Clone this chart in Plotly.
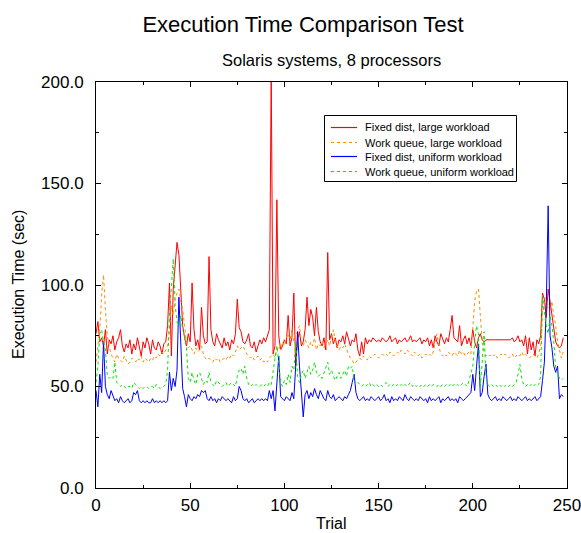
import plotly.graph_objects as go

trials = list(range(0, 249))

fixed_large = [
    76, 82, 72, 74, 70, 78, 66, 73, 71, 75,
    68, 72, 74, 78, 70, 67, 71, 69, 73, 66,
    71, 68, 74, 70, 65, 72, 69, 74, 71, 66,
    73, 69, 68, 72, 70, 66, 71, 72, 80, 101,
    65, 98, 110, 121, 115, 95, 80, 74, 70, 76,
    72, 101, 78, 70, 73, 68, 89, 75, 71, 72,
    114, 78, 72, 70, 76, 73, 71, 69, 74, 70,
    72, 68, 73, 71, 76, 93, 79, 77, 72, 71,
    73, 76, 70, 69, 72, 67, 70, 73, 71, 74,
    72, 75, 78, 205, 66, 70, 142, 75, 68, 70,
    73, 71, 85, 70, 74, 96, 60, 73, 77, 70,
    72, 78, 94, 80, 88, 84, 75, 89, 77, 72,
    70, 74, 68, 116, 73, 76, 71, 74, 69, 73,
    72, 75, 71, 77, 74, 70, 73, 72, 76, 68,
    65, 72, 66, 74, 71, 73, 72, 74, 73, 72,
    73, 72, 74, 73, 72, 73, 75, 72, 73, 74,
    71, 73, 72, 73, 74, 72, 73, 75, 72, 73,
    72, 73, 74, 71, 73, 72, 74, 70, 73, 69,
    75, 72, 70, 76, 73, 71, 74, 72, 78, 85,
    74, 73, 72, 80, 70, 73, 75, 71, 74, 70,
    78, 72, 69, 74, 76, 73, 72, 73, 73, 73,
    73, 73, 73, 73, 73, 73, 73, 73, 73, 73,
    73, 74, 72, 73, 75, 72, 73, 70, 75, 66,
    74, 68, 72, 65, 73, 71, 75, 96, 93, 84,
    98, 92, 85, 78, 72, 70, 69, 70, 74,
]

queue_large = [
    62, 70, 78, 95, 105, 88, 75, 70, 66, 64,
    62, 66, 64, 63, 62, 65, 63, 61, 62, 64,
    63, 62, 64, 63, 65, 62, 64, 63, 62, 64,
    63, 65, 64, 66, 65, 67, 66, 68, 70, 78,
    90, 85, 93, 96, 98, 92, 88, 80, 72, 69,
    70, 68, 66, 69, 67, 68, 70, 66, 64, 63,
    64, 63, 62, 64, 63, 64, 62, 63, 64, 63,
    65, 64, 66, 65, 67, 70, 68, 69, 70, 68,
    66, 65, 64, 65, 63, 64, 65, 63, 64, 62,
    63, 62, 64, 65, 66, 64, 68, 70, 68, 72,
    70, 74, 76, 73, 78, 72, 75, 77, 80, 72,
    70, 73, 71, 69, 72, 70, 74, 68, 71, 70,
    72, 69, 71, 73, 70, 75, 78, 72, 70, 68,
    70, 69, 71, 68, 66, 64, 63, 61, 62, 63,
    64, 63, 65, 64, 63, 65, 64, 65, 66, 65,
    64, 65, 66, 65, 66, 65, 67, 66, 65, 66,
    67, 66, 68, 67, 66, 68, 67, 66, 65, 67,
    66, 65, 66, 64, 65, 66, 65, 66, 65, 67,
    72, 76, 70, 66, 65, 66, 65, 67, 66, 65,
    67, 66, 65, 68, 66, 67, 65, 66, 67, 66,
    80, 92, 97, 98, 85, 72, 67, 65, 66, 65,
    66, 65, 66, 64, 65, 66, 65, 66, 65, 64,
    65, 66, 64, 65, 66, 65, 67, 65, 66, 65,
    64, 65, 66, 65, 64, 66, 70, 85, 92, 94,
    90, 88, 92, 85, 80, 72, 68, 64, 67,
]

fixed_uniform = [
    48, 40, 56, 47, 72, 50, 46, 44, 48, 45,
    43, 44, 42, 45, 43, 42, 43, 44, 42, 43,
    47, 46, 48, 43, 42, 43, 42, 43, 42, 42,
    44, 42, 43, 42, 43, 42, 43, 42, 43, 57,
    48, 54, 50, 58, 94, 70, 49, 45, 40, 46,
    44, 43, 45, 44, 46, 45, 48, 47, 48, 44,
    43, 45, 43, 44, 42, 44, 43, 45, 44, 43,
    44, 43, 42, 45, 43, 44, 50, 48, 44, 43,
    44, 42, 43, 44, 42, 43, 44, 43, 44, 43,
    44, 43, 48, 44, 48, 38, 50, 65, 45, 44,
    43, 45, 44, 43, 47, 44, 60, 77, 60, 45,
    35, 46, 48, 44, 47, 45, 49, 46, 44, 48,
    46, 44, 43, 48, 45, 44, 46, 43, 44, 45,
    44, 43, 45, 44, 46, 48, 52, 56, 47, 44,
    43, 44, 45, 43, 44, 43, 45, 44, 43, 44,
    45, 43, 44, 46, 43, 44, 42, 45, 43, 44,
    43, 45, 44, 43, 46, 44, 43, 45, 44, 43,
    44, 43, 45, 44, 43, 44, 42, 45, 43, 44,
    43, 44, 45, 42, 44, 43, 44, 45, 43, 44,
    43, 44, 42, 45, 44, 43, 44, 45, 46, 47,
    56, 48, 60, 71, 45, 47, 55, 61, 46, 44,
    43, 44, 45, 43, 44, 43, 45, 44, 43, 44,
    45, 43, 44, 43, 45, 44, 43, 44, 45, 43,
    44, 43, 44, 45, 43, 44, 45, 53, 62, 90,
    139, 75, 69, 60, 57, 60, 44, 46, 45,
]

queue_uniform = [
    52, 60, 76, 78, 72, 68, 55, 54, 55, 54,
    62, 52, 51, 50, 51, 50, 49, 50, 50, 49,
    52, 51, 50, 49, 50, 49, 50, 50, 49, 50,
    50, 49, 51, 50, 49, 50, 50, 51, 58, 85,
    100, 113, 90, 82, 80, 85, 78, 75, 69, 54,
    52, 57, 53, 51, 56, 57, 54, 51, 53, 52,
    57, 52, 51, 50, 53, 52, 51, 50, 51, 52,
    50, 51, 52, 51, 50, 55, 58, 59, 56, 60,
    54, 51, 50, 51, 50, 51, 50, 50, 51, 50,
    51, 50, 52, 51, 58, 65, 70, 62, 52, 50,
    53, 51, 56, 52, 60, 58, 72, 55, 52, 56,
    58, 54, 57, 60, 56, 58, 62, 57, 55, 56,
    54, 57, 59, 62, 56, 58, 55, 53, 55, 57,
    54, 56, 58, 55, 60, 59, 60, 53, 51, 52,
    51, 50, 51, 50, 51, 52, 50, 51, 50, 51,
    50, 51, 50, 51, 52, 50, 51, 50, 51, 50,
    51, 50, 51, 50, 51, 50, 51, 52, 50, 51,
    50, 51, 50, 51, 50, 51, 50, 51, 50, 51,
    51, 50, 51, 50, 51, 50, 51, 50, 51, 50,
    51, 50, 51, 50, 51, 52, 51, 50, 53, 56,
    60, 72, 80, 76, 50, 62, 77, 55, 51, 50,
    51, 50, 51, 50, 51, 50, 51, 50, 51, 50,
    51, 50, 51, 52, 56, 61, 54, 51, 50, 51,
    50, 51, 50, 51, 50, 51, 55, 95, 87, 80,
    76, 85, 80, 72, 59, 56, 54, 53, 54,
]

names = [
    "Fixed dist, large workload",
    "Work queue, large workload",
    "Fixed dist, uniform workload",
    "Work queue, uniform workload",
]
colors = ["#ff0000", "#ff8c00", "#0000ff", "#00e600"]
dashes = ["solid", "dot", "solid", "dot"]
x_ticks = [0, 50, 100, 150, 200, 250]
y_ticks = [0, 50, 100, 150, 200]

FONT = "Liberation Sans, Arial, Helvetica, sans-serif"

# figure geometry (pixels)
W, H = 581, 533
ML, MR, MT, MB = 96, 14, 82, 45
PW, PH = W - ML - MR, H - MT - MB


def px(xp):
    return (xp - ML) / PW


def py(yp):
    return (H - MB - yp) / PH


fig = go.Figure()
for vals, color, dash, name in zip(
        [fixed_large, queue_large, fixed_uniform, queue_uniform], colors, dashes, names):
    fig.add_trace(go.Scatter(
        x=trials, y=vals, mode="lines", name=name,
        line=dict(color=color, width=1, dash=dash),
    ))

axis_common = dict(
    showgrid=False, zeroline=False, showline=True, linecolor="black",
    linewidth=1, mirror="ticks", ticks="inside", ticklen=5, automargin=False,
    tickcolor="black", tickfont=dict(family=FONT, size=17, color="black"),
    ticklabeloverflow="allow",
)

# compact legend box like the original
shapes = [dict(type="rect", xref="paper", yref="paper",
               x0=px(324.5), x1=px(516.5), y0=py(181.5), y1=py(115.5),
               line=dict(color="black", width=1), fillcolor="white", layer="above")]
annotations = []
row_y = [127.5, 142.5, 156.5, 171.5]
for ry, name, color, dash in zip(row_y, names, colors, dashes):
    shapes.append(dict(type="line", xref="paper", yref="paper",
                       x0=px(331), x1=px(357), y0=py(ry), y1=py(ry),
                       line=dict(color=color, width=1.2, dash=dash), layer="above"))
    annotations.append(dict(text=name, xref="paper", yref="paper", x=px(363), y=py(ry),
                            xanchor="left", yanchor="middle", showarrow=False,
                            font=dict(size=11, family=FONT, color="black")))

annotations += [
    dict(text="Solaris systems, 8 processors", xref="paper", yref="paper",
         x=px(331), y=py(60), xanchor="center", yanchor="middle", showarrow=False,
         font=dict(size=16.5, family=FONT)),
    dict(text="Execution Time (sec)", xref="paper", yref="paper",
         x=px(18), y=py(285), xanchor="center", yanchor="middle", showarrow=False,
         textangle=-90, font=dict(size=16, family=FONT)),
    dict(text="Trial", xref="paper", yref="paper",
         x=px(331), y=py(523), xanchor="center", yanchor="middle", showarrow=False,
         font=dict(size=16, family=FONT)),
]

fig.update_layout(
    width=W, height=H,
    margin=dict(l=ML, r=MR, t=MT, b=MB),
    paper_bgcolor="white", plot_bgcolor="white",
    font=dict(family=FONT, color="black"),
    title=dict(text="Execution Time Comparison Test", x=303 / W, xanchor="center",
               y=1 - 24 / H, yanchor="middle", font=dict(size=22, family=FONT)),
    xaxis=dict(range=[0, 250], tickvals=x_ticks, ticktext=[str(v) for v in x_ticks],
               minor=dict(tickvals=[25, 75, 125, 175, 225], ticks="inside",
                          ticklen=3, tickcolor="black"),
               ticklabelstandoff=2, **axis_common),
    yaxis=dict(range=[0, 200], tickvals=y_ticks, ticktext=[f"{v:.1f}" for v in y_ticks],
               minor=dict(tickvals=[25, 75, 125, 175], ticks="inside",
                          ticklen=3, tickcolor="black"),
               ticklabelstandoff=8, **axis_common),
    showlegend=False,
    shapes=shapes,
    annotations=annotations,
)

fig.write_html(
    "out.html",
    config={"displayModeBar": False},
    post_script="document.body.style.margin='0px';document.body.style.overflow='hidden';",
)
